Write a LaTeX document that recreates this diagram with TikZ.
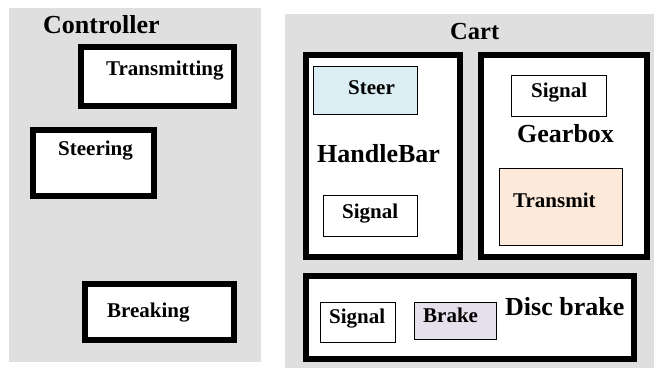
\documentclass[tikz,border=0pt]{standalone}
\usepackage{fontspec}
\setmainfont{Liberation Serif}
\definecolor{panelgray}{HTML}{DFDFDF}
\definecolor{steerblue}{HTML}{DAEEF3}
\definecolor{transpeach}{HTML}{FDE9D9}
\definecolor{brakelilac}{HTML}{E5E0EC}
\tikzset{
  panel/.style={fill=panelgray, draw=none},
  heavybox/.style={draw=black, line width=6pt, fill=white, inner sep=0pt, outer sep=0pt},
  lightbox/.style={draw=black, line width=1.5pt, fill=white, inner sep=0pt, outer sep=0pt},
  label/.style={anchor=base west, inner sep=0pt, font=\bfseries\fontsize{21}{24}\selectfont},
  biglabel/.style={anchor=base west, inner sep=0pt, font=\bfseries\fontsize{26}{30}\selectfont},
}
\begin{document}
\begin{tikzpicture}[x=1pt, y=-1pt]
\useasboundingbox (0,0) rectangle (654,368);

% grey panels
\fill[panel] (9,8) rectangle (261,362);
\fill[panel] (285,14) rectangle (654,368);

% Controller panel
\node[biglabel] (ctrl) at (43,33) {Controller};
\node[heavybox, minimum width=153pt, minimum height=59pt] (transbox) at (157.5,76.5) {};
\node[label] (transtxt) at (106,75) {Transmitting};
\node[heavybox, minimum width=121pt, minimum height=66pt] (steerbox) at (93.5,163) {};
\node[label] (steertxt) at (58,155) {Steering};
\node[heavybox, minimum width=149pt, minimum height=56pt] (brakingbox) at (159.5,312) {};
\node[label] (brakingtxt) at (107,317) {Breaking};

% Cart panel
\node[anchor=base west, inner sep=0pt, font=\bfseries\fontsize{24.5}{28}\selectfont] (cart) at (450,39) {Cart};

% HandleBar
\node[heavybox, minimum width=154pt, minimum height=202pt] (hb) at (383,156) {};
\node[lightbox, fill=steerblue, minimum width=104pt, minimum height=48pt] (hbsteer) at (365.5,90.5) {};
\node[label] (hbsteertxt) at (348,94) {Steer};
\node[biglabel] (hbtxt) at (317,162) {HandleBar};
\node[lightbox, minimum width=94pt, minimum height=41pt] (hbsig) at (370.5,216) {};
\node[label] (hbsigtxt) at (342,218) {Signal};

% Gearbox
\node[heavybox, minimum width=166pt, minimum height=202pt] (gb) at (564,156) {};
\node[lightbox, minimum width=95pt, minimum height=41pt] (gbsig) at (559,96) {};
\node[label] (gbsigtxt) at (531,97) {Signal};
\node[biglabel] (gbtxt) at (517,142) {Gearbox};
\node[lightbox, fill=transpeach, minimum width=123pt, minimum height=77pt] (gbtrans) at (561,207) {};
\node[label] (gbtranstxt) at (513,207) {Transmit};

% Disc brake
\node[heavybox, minimum width=328pt, minimum height=83pt] (db) at (470,317.5) {};
\node[lightbox, minimum width=75pt, minimum height=40pt] (dbsig) at (358,322.5) {};
\node[label] (dbsigtxt) at (329,323) {Signal};
\node[lightbox, fill=brakelilac, minimum width=82pt, minimum height=37pt] (dbbrake) at (455.5,321) {};
\node[label] (dbbraketxt) at (423,322) {Brake};
\node[biglabel] (dbtxt) at (505,315) {Disc brake};
\end{tikzpicture}
\end{document}
